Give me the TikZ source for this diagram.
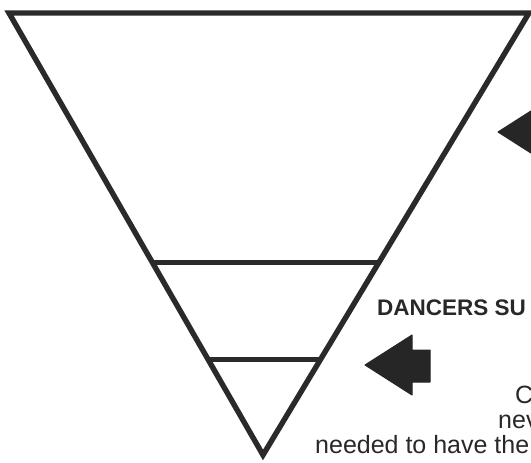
\documentclass[tikz,border=0pt]{standalone}
\usepackage{fontspec}
\setmainfont{Liberation Sans}
\usetikzlibrary{calc}
\begin{document}
\begin{tikzpicture}[x=1pt,y=-1pt,
  ink/.style={draw=inkc, line width=5.4pt, line join=miter},
  arrowfill/.style={fill=arrowc, draw=arrowc, line width=1pt, line join=round},
  bodytext/.style={inner sep=0pt, anchor=base west, text=textc, font=\fontsize{25}{25}\selectfont},
  headtext/.style={inner sep=0pt, anchor=base west, text=textc, font=\fontsize{22.5}{24}\selectfont\bfseries}]
\definecolor{inkc}{RGB}{42,42,42}
\definecolor{arrowc}{RGB}{38,38,38}
\definecolor{textc}{RGB}{40,40,40}
\useasboundingbox (0,0) rectangle (531,463);
\clip (0,0) rectangle (531,463);
% triangle
\coordinate (TL) at (9,13);
\coordinate (TR) at (529,13);
\coordinate (A) at (263,455);
\draw[ink] (TL) -- (TR) -- (A) -- cycle;
% horizontal bands
\coordinate (L1) at ($(TL)!0.5656!(A)$);
\coordinate (R1) at ($(TR)!0.5656!(A)$);
\coordinate (L2) at ($(TL)!0.7828!(A)$);
\coordinate (R2) at ($(TR)!0.7828!(A)$);
\draw[ink, line width=5pt] (L1) -- (R1);
\draw[ink, line width=5pt] (L2) -- (R2);
% arrows
\coordinate (tipA) at (498,132);
\coordinate (tipB) at (365,365);
\filldraw[arrowfill] (tipA) -- ++(47,-30) -- ++(0,15) -- ++(18,0) -- ++(0,32) -- ++(-18,0) -- ++(0,13) -- cycle;
\filldraw[arrowfill] (tipB) -- ++(47,-30) -- ++(0,15) -- ++(18,0) -- ++(0,32) -- ++(-18,0) -- ++(0,13) -- cycle;
% texts
\node[headtext] (head) at (377,315) {DANCERS SU};
\node[bodytext] (t1) at (515,403) {C};
\node[bodytext] (t2) at (498,428) {nev};
\node[bodytext] (t3) at (315,453) {needed to have the};
\end{tikzpicture}
\end{document}
